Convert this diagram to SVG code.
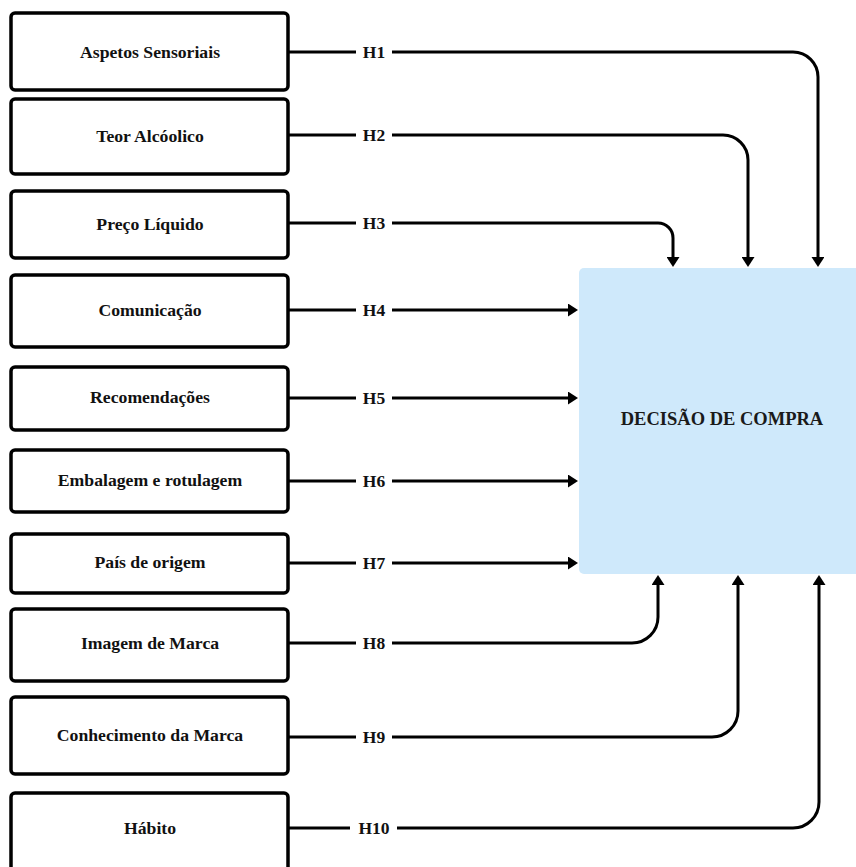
<svg xmlns="http://www.w3.org/2000/svg" width="856" height="867" viewBox="0 0 856 867">
  <style>
    .box { fill: #ffffff; stroke: #000000; stroke-width: 3.5; }
    .lbl { font-family: "Liberation Serif", "Times New Roman", serif; font-weight: bold; font-size: 17.7px; fill: #111111; text-anchor: middle; }
    .h { font-family: "Liberation Serif", "Times New Roman", serif; font-weight: bold; font-size: 17.5px; fill: #111111; text-anchor: middle; }
    .line { fill: none; stroke: #000000; stroke-width: 3; }
    .arr { fill: none; stroke: #000000; stroke-width: 3; marker-end: url(#ah); }
    .dec { fill: #cfe9fb; stroke: none; }
    .dectxt { font-family: "Liberation Serif", "Times New Roman", serif; font-weight: bold; font-size: 18.5px; fill: #1a1a1a; text-anchor: middle; }
  </style>
  <defs>
    <marker id="ah" markerUnits="userSpaceOnUse" viewBox="0 0 10 13" refX="7" refY="6.5" markerWidth="10" markerHeight="13" orient="auto">
      <path d="M0,0 L10,6.5 L0,13 Z" fill="#000000"/>
    </marker>
  </defs>
  <rect width="856" height="867" fill="#ffffff"/>

  <g id="decisao">
    <rect class="dec" x="579" y="268" width="290" height="306" rx="5"/>
    <text class="dectxt" x="722" y="425">DECISÃO DE COMPRA</text>
  </g>

  <g id="n1"><rect class="box" x="11" y="13" width="277" height="77" rx="4"/><text class="lbl" x="150" y="58">Aspetos Sensoriais</text></g>
  <g id="n2"><rect class="box" x="11" y="99" width="277" height="75" rx="4"/><text class="lbl" x="150" y="142">Teor Alcóolico</text></g>
  <g id="n3"><rect class="box" x="11" y="191" width="277" height="67" rx="4"/><text class="lbl" x="150" y="230">Preço Líquido</text></g>
  <g id="n4"><rect class="box" x="11" y="275" width="277" height="72" rx="4"/><text class="lbl" x="150" y="316">Comunicação</text></g>
  <g id="n5"><rect class="box" x="11" y="367" width="277" height="63" rx="4"/><text class="lbl" x="150" y="403">Recomendações</text></g>
  <g id="n6"><rect class="box" x="11" y="450" width="277" height="62" rx="4"/><text class="lbl" x="150" y="486">Embalagem e rotulagem</text></g>
  <g id="n7"><rect class="box" x="11" y="534" width="277" height="59" rx="4"/><text class="lbl" x="150" y="568">País de origem</text></g>
  <g id="n8"><rect class="box" x="11" y="609" width="277" height="72" rx="4"/><text class="lbl" x="150" y="649">Imagem de Marca</text></g>
  <g id="n9"><rect class="box" x="11" y="697" width="277" height="77" rx="4"/><text class="lbl" x="150" y="741">Conhecimento da Marca</text></g>
  <g id="n10"><rect class="box" x="11" y="793" width="277" height="80" rx="4"/><text class="lbl" x="150" y="834">Hábito</text></g>

  <g id="connectors">
    <path class="line" d="M288,52 H356"/>
    <path class="arr" d="M392,52 H793 A25,25 0 0 1 818,77 V264"/>
    <text class="h" x="374" y="58">H1</text>

    <path class="line" d="M288,135 H356"/>
    <path class="arr" d="M392,135 H723 A25,25 0 0 1 748,160 V264"/>
    <text class="h" x="374" y="141">H2</text>

    <path class="line" d="M288,223 H356"/>
    <path class="arr" d="M392,223 H658 A15,15 0 0 1 673,238 V264"/>
    <text class="h" x="374" y="229">H3</text>

    <path class="line" d="M288,310 H356"/>
    <path class="arr" d="M392,310 H575"/>
    <text class="h" x="374" y="316">H4</text>

    <path class="line" d="M288,398 H356"/>
    <path class="arr" d="M392,398 H575"/>
    <text class="h" x="374" y="404">H5</text>

    <path class="line" d="M288,481 H356"/>
    <path class="arr" d="M392,481 H575"/>
    <text class="h" x="374" y="487">H6</text>

    <path class="line" d="M288,563 H356"/>
    <path class="arr" d="M392,563 H575"/>
    <text class="h" x="374" y="569">H7</text>

    <path class="line" d="M288,643 H356"/>
    <path class="arr" d="M392,643 H632 A26,26 0 0 0 658,617 V578"/>
    <text class="h" x="374" y="649">H8</text>

    <path class="line" d="M288,737 H356"/>
    <path class="arr" d="M392,737 H712 A26,26 0 0 0 738,711 V578"/>
    <text class="h" x="374" y="743">H9</text>

    <path class="line" d="M288,828 H350"/>
    <path class="arr" d="M397,828 H793 A26,26 0 0 0 819,802 V578"/>
    <text class="h" x="374" y="834">H10</text>
  </g>
</svg>
